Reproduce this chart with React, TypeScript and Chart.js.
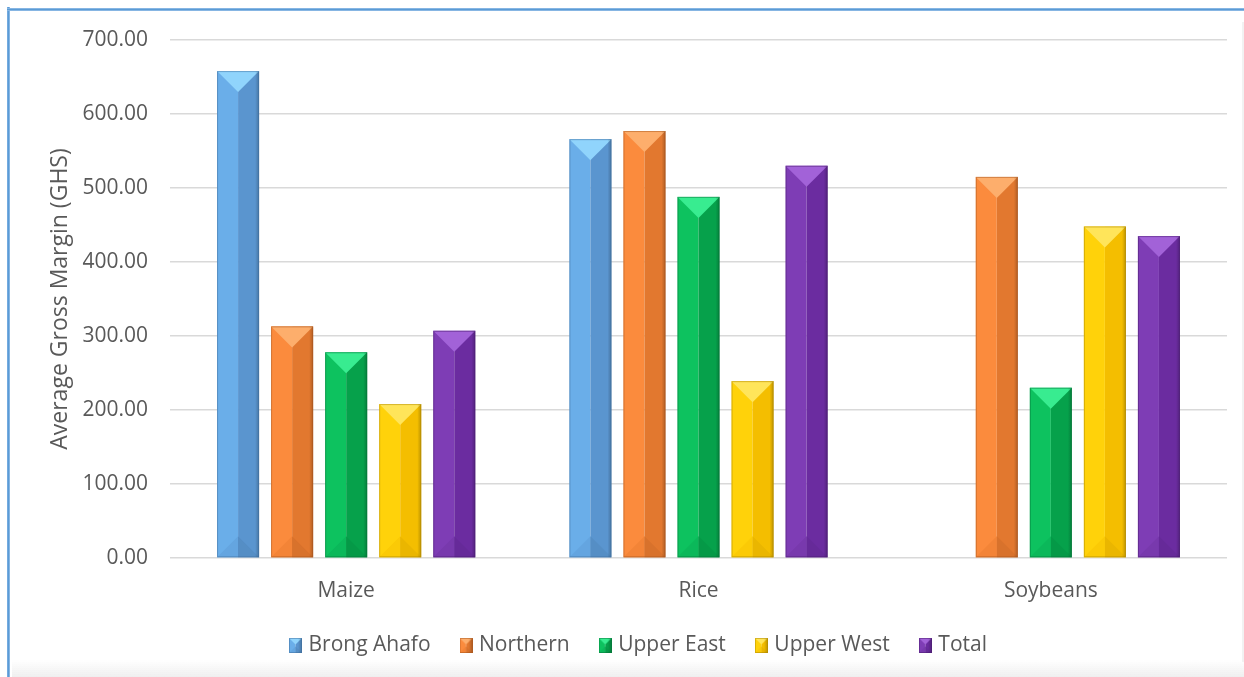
import React, { useEffect, useRef } from "react";
import { Chart, registerables } from "chart.js";
Chart.register(...registerables);

const categories = ["Maize", "Rice", "Soybeans"];
const seriesNames = ["Brong Ahafo", "Northern", "Upper East", "Upper West", "Total"];
const brongAhafo = [658, 566, null];
const northern = [313, 577, 515];
const upperEast = [278, 488, 230];
const upperWest = [208, 239, 448];
const total = [307, 530, 435];
const seriesValues = [brongAhafo, northern, upperEast, upperWest, total];
const yMin = 0;
const yMax = 700;
const yStep = 100;
const yTitle = "Average Gross Margin (GHS)";

const palettes = [
  { left: "#6aaee9", right: "#5a95cf", top: "#90d4fc", bl: "#64a5e0", br: "#558ec5", edge: "#3f6fa0" },
  { left: "#fb8b3d", right: "#e2782f", top: "#fdae6c", bl: "#f38437", br: "#d8722c", edge: "#a9561c" },
  { left: "#0dc25f", right: "#06a14b", top: "#38ec90", bl: "#0bb85a", br: "#059947", edge: "#06763a" },
  { left: "#ffd20a", right: "#f4be00", top: "#ffe55a", bl: "#fbca06", br: "#eab600", edge: "#ae8700" },
  { left: "#7e3db5", right: "#6b2ca0", top: "#a262d8", bl: "#7839ad", br: "#662a99", edge: "#4a1b70" },
];

const FONT = "'Open Sans', 'DejaVu Sans', sans-serif";
const TEXT = "#595959";

function drawBevel(ctx: CanvasRenderingContext2D, l: number, y: number, w: number, base: number, pal: any) {
  const x = l + w / 2;
  const r = l + w;
  const h = Math.min(w / 2, (base - y) / 2);
  ctx.fillStyle = pal.left;
  ctx.fillRect(l, y, x - l, base - y);
  ctx.fillStyle = pal.right;
  ctx.fillRect(x, y, r - x, base - y);
  ctx.fillStyle = pal.bl;
  ctx.beginPath();
  ctx.moveTo(l, base);
  ctx.lineTo(x, base - h);
  ctx.lineTo(x, base);
  ctx.closePath();
  ctx.fill();
  ctx.fillStyle = pal.br;
  ctx.beginPath();
  ctx.moveTo(x, base);
  ctx.lineTo(x, base - h);
  ctx.lineTo(r, base);
  ctx.closePath();
  ctx.fill();
  ctx.fillStyle = pal.top;
  ctx.beginPath();
  ctx.moveTo(l, y);
  ctx.lineTo(r, y);
  ctx.lineTo(x, y + h);
  ctx.closePath();
  ctx.fill();
  const g = ctx.createLinearGradient(r - 4, 0, r, 0);
  g.addColorStop(0, "rgba(0,0,0,0)");
  g.addColorStop(1, "rgba(0,0,0,0.22)");
  ctx.fillStyle = g;
  ctx.fillRect(r - 4, y, 4, base - y);
  ctx.strokeStyle = pal.edge;
  ctx.globalAlpha = 0.5;
  ctx.lineWidth = 1;
  ctx.strokeRect(l + 0.5, y + 0.5, w - 1, base - y - 1);
  ctx.globalAlpha = 1;
}

const bevelPlugin = {
  id: "bevel",
  afterDatasetsDraw(chart: any) {
    const ctx = chart.ctx;
    ctx.save();
    chart.data.datasets.forEach((_ds: any, di: number) => {
      const meta = chart.getDatasetMeta(di);
      const pal = palettes[di];
      meta.data.forEach((el: any) => {
        const { x, y, base, width } = el.getProps(["x", "y", "base", "width"], true);
        if (!isFinite(y) || base - y < 1) return;
        drawBevel(ctx, x - width / 2, y, width, base, pal);
      });
    });
    ctx.restore();
  },
};

function makeIcon(pal: any) {
  const c = document.createElement("canvas");
  c.width = 13;
  c.height = 15;
  const ctx = c.getContext("2d")!;
  drawBevel(ctx, 0, 0, 13, 15, pal);
  return c;
}

export default function App() {
  const ref = useRef<HTMLCanvasElement>(null);
  useEffect(() => {
    if (!ref.current) return;
    const icons = palettes.map(makeIcon);
    const chart = new Chart(ref.current, {
      type: "bar",
      data: {
        labels: categories,
        datasets: seriesNames.map((name, i) => ({
          label: name,
          data: seriesValues[i] as any,
          backgroundColor: "rgba(0,0,0,0)",
          borderWidth: 0,
          categoryPercentage: 0.767,
          barPercentage: 0.778,
        })),
      },
      options: {
        responsive: false,
        animation: false,
        layout: { padding: { left: 53, right: 17, top: 40, bottom: 11 } },
        plugins: {
          tooltip: { enabled: false },
          legend: {
            position: "bottom",
            labels: {
              usePointStyle: true,
              pointStyleWidth: 5,
              boxHeight: 14,
              padding: 33,
              color: TEXT,
              font: { family: FONT, size: 21 },
              generateLabels: (ch: any) =>
                ch.data.datasets.map((ds: any, i: number) => ({
                  text: ds.label,
                  fillStyle: palettes[i].left,
                  strokeStyle: palettes[i].edge,
                  lineWidth: 0,
                  pointStyle: icons[i],
                  hidden: false,
                  datasetIndex: i,
                  fontColor: TEXT,
                })),
            },
          },
        },
        scales: {
          x: {
            grid: { display: false, drawTicks: false },
            border: { display: false },
            ticks: { color: TEXT, font: { family: FONT, size: 21 }, padding: 20 },
            afterFit: (s: any) => {
              s.height = 44;
            },
          },
          y: {
            min: yMin,
            max: yMax,
            grid: { color: "#d9d9d9", lineWidth: 1.5, drawTicks: false },
            border: { display: false },
            ticks: {
              stepSize: yStep,
              color: TEXT,
              font: { family: FONT, size: 21 },
              padding: 22,
              callback: (v: any) => Number(v).toFixed(2),
            },
            title: {
              display: true,
              text: yTitle,
              color: TEXT,
              font: { family: FONT, size: 23 },
              padding: { top: -6, bottom: 0 },
            },
            afterFit: (s: any) => {
              s.width = 117;
            },
          },
        },
      },
      plugins: [bevelPlugin],
    });
    return () => chart.destroy();
  }, []);

  return (
    <div style={{ position: "absolute", left: 0, top: 0, width: 1244, height: 677, background: "#fff", overflow: "hidden" }}>
      <canvas ref={ref} width={1244} height={677} style={{ display: "block", position: "absolute", left: 0, top: 0 }} />
      <div style={{ position: "absolute", left: 7, top: 7, width: 3, height: 670, background: "linear-gradient(90deg,#7fb2e5,#5b9bd5,#9cc3ea)" }} />
      <div style={{ position: "absolute", left: 7, top: 8, width: 1237, height: 3, background: "linear-gradient(180deg,#9cc3ea,#5b9bd5,#9cc3ea)" }} />
      <div style={{ position: "absolute", left: 1242, top: 22, width: 2, height: 640, background: "#f2f2f2" }} />
      <div style={{ position: "absolute", left: 12, top: 660, width: 1232, height: 17, background: "linear-gradient(180deg,rgba(255,255,255,0),#efefef)" }} />
    </div>
  );
}
